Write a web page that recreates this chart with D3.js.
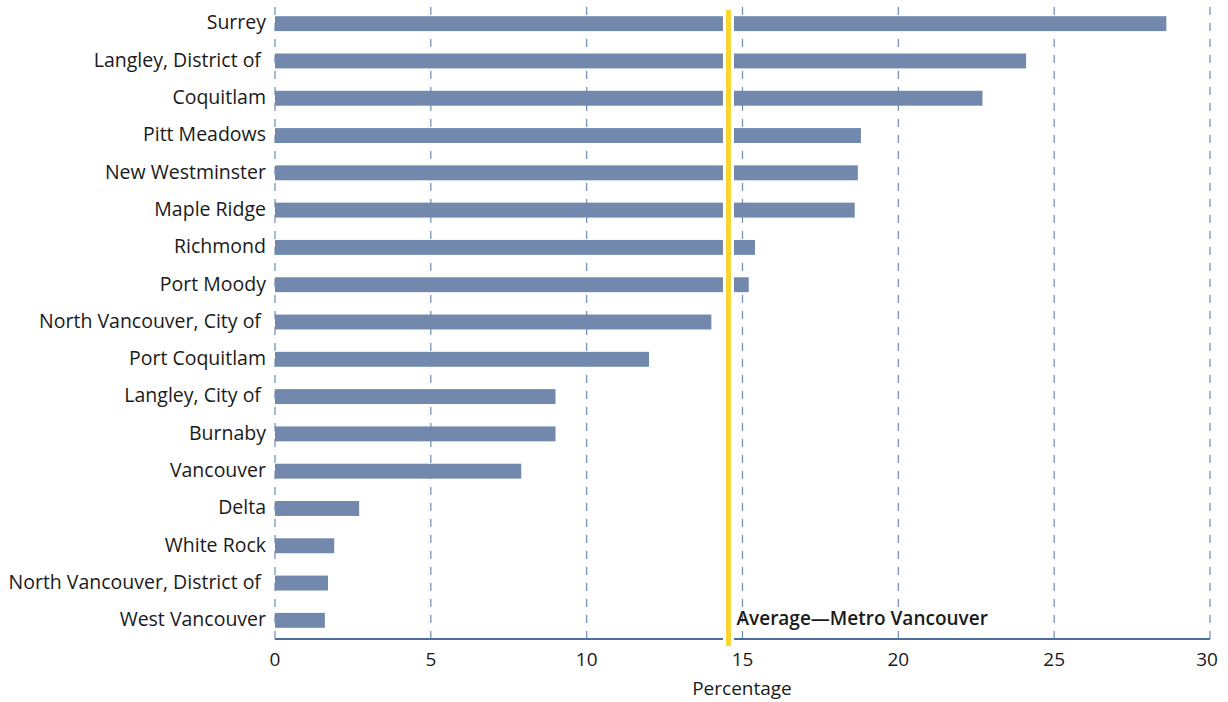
<!DOCTYPE html>
<html>
<head>
<meta charset="utf-8">
<script src="https://cdn.jsdelivr.net/npm/d3@7"></script>
<style>
  html, body { margin: 0; padding: 0; background: #fff; }
  svg { display: block; }
  text { font-family: "Open Sans", Lato, sans-serif; fill: #1a1a1a; }
</style>
</head>
<body>
<svg id="chart" width="1228" height="702"></svg>
<script>
// Municipalities, top to bottom
const municipalities = [
  "Surrey", "Langley, District of ", "Coquitlam", "Pitt Meadows", "New Westminster",
  "Maple Ridge", "Richmond", "Port Moody", "North Vancouver, City of ", "Port Coquitlam",
  "Langley, City of ", "Burnaby", "Vancouver", "Delta", "White Rock",
  "North Vancouver, District of ", "West Vancouver"
];
// Percentage for each municipality
const percentages = [
  28.6, 24.1, 22.7, 18.8, 18.7,
  18.6, 15.4, 15.2, 14.0, 12.0,
  9.0, 9.0, 7.9, 2.7, 1.9,
  1.7, 1.6
];
const averageValue = 14.55;
const averageLabel = "Average\u2014Metro Vancouver";
const xTicks = [0, 5, 10, 15, 20, 25, 30];
const xTitle = "Percentage";

const svg = d3.select("#chart");
const plotLeft = 275, plotRight = 1210, plotTop = 5, plotBottom = 639;

const x = d3.scaleLinear().domain([0, 30]).range([plotLeft, plotRight]);
const y = d3.scaleBand().domain(municipalities).range([plotTop, plotBottom]).paddingInner(0.6).paddingOuter(0.3);

// dashed vertical gridlines
svg.append("g").selectAll("line").data(xTicks).join("line")
  .attr("x1", d => x(d)).attr("x2", d => x(d))
  .attr("y1", 7).attr("y2", plotBottom)
  .attr("stroke", "#6d8cb6").attr("stroke-width", 1.2)
  .attr("stroke-dasharray", "8,8");

// bars
svg.append("g").selectAll("rect").data(municipalities).join("rect")
  .attr("x", x(0))
  .attr("y", d => y(d))
  .attr("width", (d, i) => x(percentages[i]) - x(0))
  .attr("height", y.bandwidth())
  .attr("fill", "#7288ad");

// category labels
svg.append("g").selectAll("text").data(municipalities).join("text")
  .attr("x", 266)
  .attr("y", d => y(d) + y.bandwidth() / 2 - 1)
  .attr("dy", "0.35em")
  .attr("text-anchor", "end")
  .style("white-space", "pre")
  .style("font-size", "19.5px")
  .text(d => d);

// x axis baseline
svg.append("line")
  .attr("x1", x(0)).attr("x2", x(30))
  .attr("y1", plotBottom).attr("y2", plotBottom)
  .attr("stroke", "#4a6d9b").attr("stroke-width", 2);

// tick labels
svg.append("g").selectAll("text").data(xTicks).join("text")
  .attr("x", d => x(d) - (d === 30 ? 3 : 0))
  .attr("y", 666)
  .attr("text-anchor", "middle")
  .style("font-size", "19px")
  .text(d => d);

svg.append("text")
  .attr("x", 742).attr("y", 695)
  .attr("text-anchor", "middle")
  .style("font-size", "19px")
  .text(xTitle);

// average reference line with white halo
const ax = x(averageValue);
svg.append("line")
  .attr("x1", ax).attr("x2", ax).attr("y1", 10).attr("y2", 646)
  .attr("stroke", "#fff").attr("stroke-width", 11);
svg.append("line")
  .attr("x1", ax).attr("x2", ax).attr("y1", 10).attr("y2", 646)
  .attr("stroke", "#f9d531").attr("stroke-width", 5);

svg.append("text")
  .attr("x", ax + 8).attr("y", y(municipalities[municipalities.length - 1]) + y.bandwidth() / 2 - 2)
  .attr("dy", "0.35em")
  .style("font-size", "19px")
  .style("font-weight", 600)
  .text(averageLabel);
</script>
</body>
</html>
